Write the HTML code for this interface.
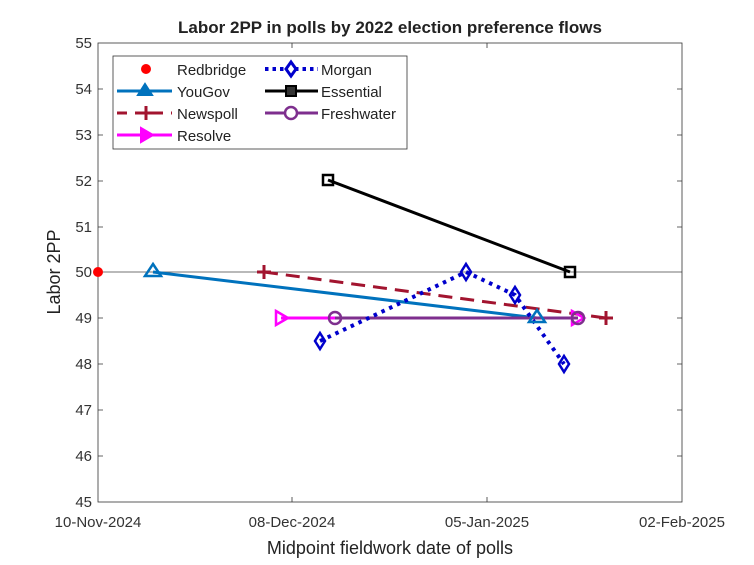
<!DOCTYPE html>
<html><head><style>body{margin:0;background:#fff}svg{display:block;font-family:"Liberation Sans",sans-serif}</style></head><body>
<svg width="754" height="565" viewBox="0 0 754 565">
<rect width="754" height="565" fill="#fff"/>
<text x="390" y="33" font-size="17" font-weight="bold" text-anchor="middle" fill="#222">Labor 2PP in polls by 2022 election preference flows</text>
<line x1="98" y1="272" x2="682" y2="272" stroke="#444" stroke-width="0.8"/>
<g stroke="#333" stroke-width="0.8">
<rect x="98" y="43" width="584" height="459" fill="none" stroke="#333"/>
<path d="M98 89h5M98 135h5M98 181h5M98 227h5M98 318h5M98 364h5M98 410h5M98 456h5M682 89h-5M682 135h-5M682 181h-5M682 227h-5M682 318h-5M682 364h-5M682 410h-5M682 456h-5M292 502v-5M487 502v-5M292 43v5M487 43v5"/>
</g>
<g font-size="15" fill="#333" text-anchor="end">
<text x="92" y="48">55</text><text x="92" y="94">54</text><text x="92" y="140">53</text><text x="92" y="186">52</text><text x="92" y="232">51</text><text x="92" y="277">50</text><text x="92" y="323">49</text><text x="92" y="369">48</text><text x="92" y="415">47</text><text x="92" y="461">46</text><text x="92" y="507">45</text>
</g>
<g font-size="15" fill="#333" text-anchor="middle">
<text x="98" y="527">10-Nov-2024</text><text x="292" y="527">08-Dec-2024</text><text x="487" y="527">05-Jan-2025</text><text x="682" y="527">02-Feb-2025</text>
</g>
<text x="390" y="554" font-size="18" text-anchor="middle" fill="#222">Midpoint fieldwork date of polls</text>
<text transform="translate(60,272) rotate(-90)" font-size="18" text-anchor="middle" fill="#222">Labor 2PP</text>
<circle cx="98" cy="272" r="5" fill="#f00"/>
<line x1="153" y1="272" x2="537" y2="318" stroke="#0072BD" stroke-width="3"/>
<line x1="264" y1="272" x2="606" y2="318" stroke="#A2142F" stroke-width="3" stroke-dasharray="14,8"/>
<path d="M257 272h14M264 265v14M599 318h14M606 311v14" stroke="#A2142F" stroke-width="3"/>
<line x1="281" y1="318" x2="578" y2="318" stroke="#f0f" stroke-width="3"/>
<line x1="335" y1="318" x2="578" y2="318" stroke="#7E2F8E" stroke-width="3"/>
<polyline points="320,341 466,272 515,295 564,364" fill="none" stroke="#00c" stroke-width="4" stroke-dasharray="3.5,5"/>
<line x1="328" y1="180" x2="570" y2="272" stroke="#000" stroke-width="3"/>
<g fill="none" stroke-width="2.5">
<path d="M153 264l8 12h-16z M537 310l8 12h-16z" stroke="#0072BD"/>
<path d="M276 311l12 7-12 7z M572 311l12 7-12 7z" stroke="#f0f"/>
<circle cx="335" cy="318" r="6" stroke="#7E2F8E"/><circle cx="578" cy="318" r="6" stroke="#7E2F8E"/>
<path d="M320 333l5 8-5 8-5-8z M466 264l5 8-5 8-5-8z M515 287l5 8-5 8-5-8z M564 356l5 8-5 8-5-8z" stroke="#00c"/>
<rect x="323" y="175" width="10" height="10" stroke="#000"/><rect x="565" y="267" width="10" height="10" stroke="#000"/>
</g>
<rect x="113" y="56" width="294" height="93" fill="#fff" stroke="#333" stroke-width="0.8"/>
<g font-size="15" fill="#222">
<text x="177" y="75">Redbridge</text><text x="177" y="97">YouGov</text><text x="177" y="119">Newspoll</text><text x="177" y="141">Resolve</text>
<text x="321" y="75">Morgan</text><text x="321" y="97">Essential</text><text x="321" y="119">Freshwater</text>
</g>
<circle cx="146" cy="69" r="5" fill="#f00"/>
<line x1="117" y1="91" x2="172" y2="91" stroke="#0072BD" stroke-width="3"/><path d="M145 84l7 11h-14z" fill="#0072BD" stroke="#0072BD" stroke-width="2"/>
<line x1="117" y1="113" x2="172" y2="113" stroke="#A2142F" stroke-width="3" stroke-dasharray="10,8"/><path d="M139 113h14M146 106v14" stroke="#A2142F" stroke-width="3"/>
<line x1="117" y1="135" x2="172" y2="135" stroke="#f0f" stroke-width="3"/><path d="M141 128l12 7-12 7z" fill="#f0f" stroke="#f0f" stroke-width="2"/>
<line x1="265" y1="69" x2="318" y2="69" stroke="#00c" stroke-width="4" stroke-dasharray="3.5,4"/><path d="M291 62l5 7-5 7-5-7z" fill="#fff" stroke="#00c" stroke-width="3"/>
<line x1="265" y1="91" x2="318" y2="91" stroke="#000" stroke-width="3"/><rect x="286" y="86" width="10" height="10" fill="#333" stroke="#000" stroke-width="2"/>
<line x1="265" y1="113" x2="318" y2="113" stroke="#7E2F8E" stroke-width="3"/><circle cx="291" cy="113" r="6" fill="#fff" stroke="#7E2F8E" stroke-width="2.5"/>
</svg>
</body></html>
